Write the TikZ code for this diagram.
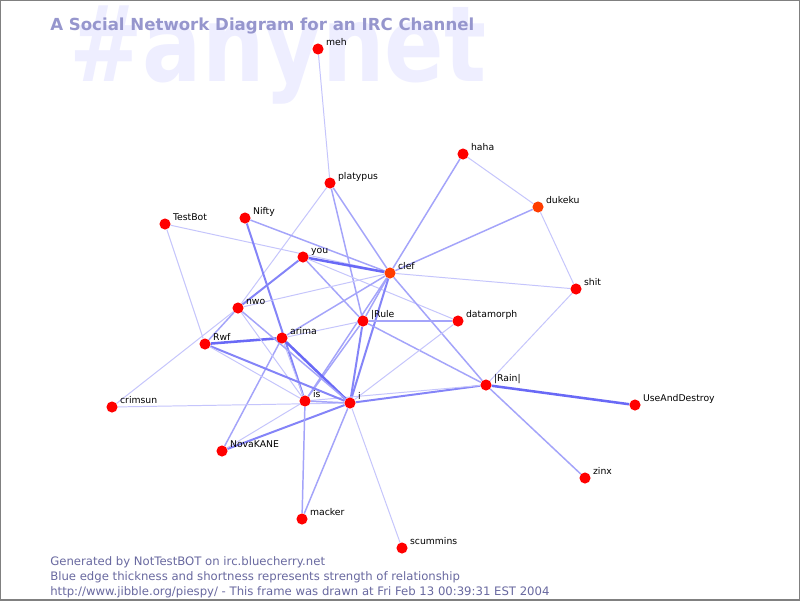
\documentclass[tikz,border=0pt]{standalone}
\usepackage{fontspec}
\setmainfont{DejaVu Sans}
\usetikzlibrary{backgrounds}

\definecolor{nickred}{RGB}{255,0,0}
\definecolor{nickhot}{RGB}{255,60,0}
\definecolor{tie}{RGB}{80,80,245}
\definecolor{titleblue}{RGB}{150,150,205}
\definecolor{faintblue}{RGB}{238,238,255}
\definecolor{footblue}{RGB}{105,105,160}

\pgfdeclarelayer{watermark}
\pgfsetlayers{watermark,background,main}

\tikzset{
  nick/.style={circle, fill=nickred, inner sep=0pt, minimum size=7.9pt},
  hotnick/.style={nick, fill=nickhot},
  tag/.style={anchor=base west, inner sep=0pt, xshift=1.4pt, yshift=2.8pt, font=\fontsize{6.6}{7}\selectfont},
  foot/.style={anchor=base west, inner sep=0pt, text=footblue, font=\fontsize{8.3}{9}\selectfont},
  weak/.style={draw=tie!33, line width=0.7pt},
  fair/.style={draw=tie!52, line width=1.05pt},
  strong/.style={draw=tie!70, line width=1.4pt},
  heavy/.style={draw=tie!86, line width=1.8pt}
}

\begin{document}
\begin{tikzpicture}[x=0.025cm, y=-0.025cm]
            \useasboundingbox (0,0) rectangle (800,600);

            % Backdrop and headings
            \begin{pgfonlayer}{watermark}
              \fill[white] (0,0) rectangle (800,600);
              \node[anchor=base west, inner sep=0pt, text=faintblue, font=\bfseries\fontsize{62.5}{62}\selectfont] (channel) at (69,81) {\scalebox{1}[1.2]{\#anynet}};
            \end{pgfonlayer}
            \node[anchor=base west, inner sep=0pt, text=titleblue, font=\bfseries\fontsize{11.8}{13}\selectfont] (title) at (50,30) {A Social Network Diagram for an IRC Channel};

            % Nicks
            \node[nick, label={[tag]east:meh}] (meh) at (318,49) {};
            \node[nick, label={[tag]east:platypus}] (platypus) at (330,183) {};
            \node[nick, label={[tag]east:haha}] (haha) at (463,154) {};
            \node[hotnick, label={[tag]east:dukeku}] (dukeku) at (538,207) {};
            \node[nick, label={[tag]east:TestBot}] (testbot) at (165,224) {};
            \node[nick, label={[tag]east:Nifty}] (nifty) at (245,218) {};
            \node[nick, label={[tag]east:you}] (you) at (303,257) {};
            \node[hotnick, label={[tag]east:clef}] (clef) at (390,273) {};
            \node[nick, label={[tag]east:shit}] (shit) at (576,289) {};
            \node[nick, label={[tag]east:nwo}] (nwo) at (238,308) {};
            \node[nick, label={[tag]east:|Rule}] (rule) at (363,321) {};
            \node[nick, label={[tag]east:datamorph}] (datamorph) at (458,321) {};
            \node[nick, label={[tag]east:arima}] (arima) at (282,338) {};
            \node[nick, label={[tag]east:Rwf}] (rwf) at (205,344) {};
            \node[nick, label={[tag]east:|Rain|}] (rain) at (486,385) {};
            \node[nick, label={[tag]east:UseAndDestroy}] (useanddestroy) at (635,405) {};
            \node[nick, label={[tag]east:crimsun}] (crimsun) at (112,407) {};
            \node[nick, label={[tag]east:is}] (is) at (305,401) {};
            \node[nick, label={[tag]east:i}] (i) at (350,403) {};
            \node[nick, label={[tag]east:NovaKANE}] (novakane) at (222,451) {};
            \node[nick, label={[tag]east:zinx}] (zinx) at (585,478) {};
            \node[nick, label={[tag]east:macker}] (macker) at (302,519) {};
            \node[nick, label={[tag]east:scummins}] (scummins) at (402,548) {};

            % Footer
            \node[foot] (generated) at (50,565) {Generated by NotTestBOT on irc.bluecherry.net};
            \node[foot] (legend) at (50,580) {Blue edge thickness and shortness represents strength of relationship};
            \node[foot] (stamp) at (50,595) {http://www.jibble.org/piespy/ - This frame was drawn at Fri Feb 13 00:39:31 EST 2004};

            % Relationships
            \begin{pgfonlayer}{background}
              \draw[weak] (meh) -- (platypus);
              \draw[fair] (platypus) -- (clef);
              \draw[fair] (platypus) -- (rule);
              \draw[weak] (platypus) -- (nwo);
              \draw[fair] (haha) -- (clef);
              \draw[weak] (haha) -- (dukeku);
              \draw[fair] (dukeku) -- (clef);
              \draw[weak] (dukeku) -- (shit);
              \draw[weak] (shit) -- (clef);
              \draw[weak] (shit) -- (rain);
              \draw[weak] (testbot) -- (clef);
              \draw[weak] (testbot) -- (rwf);
              \draw[fair] (nifty) -- (clef);
              \draw[strong] (nifty) -- (is);
              \draw[heavy] (you) -- (clef);
              \draw[strong] (you) -- (nwo);
              \draw[fair] (you) -- (rule);
              \draw[weak] (you) -- (datamorph);
              \draw[fair] (clef) -- (rule);
              \draw[strong] (clef) -- (i);
              \draw[fair] (clef) -- (is);
              \draw[fair] (clef) -- (rain);
              \draw[weak] (clef) -- (nwo);
              \draw[fair] (clef) -- (arima);
              \draw[fair] (rule) -- (datamorph);
              \draw[weak] (rule) -- (arima);
              \draw[strong] (rule) -- (i);
              \draw[fair] (rule) -- (is);
              \draw[fair] (rule) -- (rain);
              \draw[weak] (datamorph) -- (i);
              \draw[strong] (rain) -- (i);
              \draw[weak] (rain) -- (is);
              \draw[heavy] (rain) -- (useanddestroy);
              \draw[fair] (rain) -- (zinx);
              \draw[heavy] (arima) -- (rwf);
              \draw[heavy] (arima) -- (i);
              \draw[weak] (arima) -- (is);
              \draw[fair] (arima) -- (novakane);
              \draw[fair] (nwo) -- (rwf);
              \draw[fair] (nwo) -- (i);
              \draw[weak] (nwo) -- (is);
              \draw[strong] (rwf) -- (i);
              \draw[weak] (rwf) -- (is);
              \draw[weak] (crimsun) -- (nwo);
              \draw[weak] (crimsun) -- (i);
              \draw[strong] (novakane) -- (i);
              \draw[weak] (novakane) -- (is);
              \draw[fair] (i) -- (macker);
              \draw[fair] (is) -- (macker);
              \draw[weak] (i) -- (scummins);
              \draw[fair] (is) -- (i);
            \end{pgfonlayer}

            % Frame
            \draw[gray, line width=2.1pt] (0,0) rectangle (800,600);
        \end{tikzpicture}
\end{document}
